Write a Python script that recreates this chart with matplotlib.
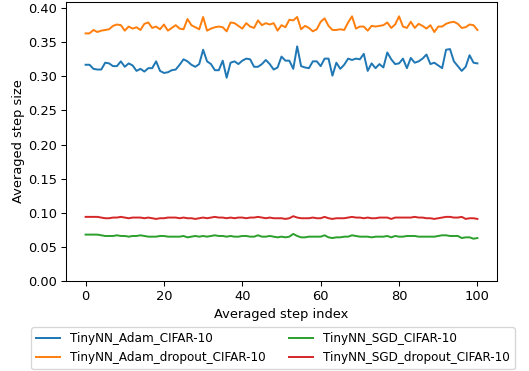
import matplotlib
matplotlib.use("Agg")
import matplotlib.pyplot as plt
import numpy as np

steps = list(range(101))

adam = [0.317, 0.317, 0.311, 0.310, 0.310, 0.320, 0.319, 0.315, 0.315, 0.322,
        0.314, 0.319, 0.316, 0.308, 0.311, 0.307, 0.312, 0.312, 0.322, 0.308,
        0.305, 0.306, 0.309, 0.310, 0.317, 0.325, 0.322, 0.317, 0.314, 0.318,
        0.339, 0.322, 0.318, 0.309, 0.309, 0.323, 0.298, 0.320, 0.322, 0.318,
        0.323, 0.326, 0.325, 0.314, 0.314, 0.318, 0.324, 0.318, 0.310, 0.313,
        0.329, 0.323, 0.323, 0.311, 0.344, 0.315, 0.313, 0.312, 0.322, 0.322,
        0.315, 0.326, 0.326, 0.301, 0.320, 0.311, 0.317, 0.326, 0.324, 0.326,
        0.325, 0.333, 0.308, 0.319, 0.312, 0.318, 0.313, 0.335, 0.325, 0.318,
        0.319, 0.326, 0.312, 0.327, 0.320, 0.322, 0.326, 0.332, 0.318, 0.320,
        0.316, 0.312, 0.339, 0.340, 0.322, 0.315, 0.308, 0.314, 0.331, 0.320,
        0.319]

adam_dropout = [0.363, 0.363, 0.368, 0.365, 0.367, 0.368, 0.369, 0.374, 0.376, 0.375,
                0.367, 0.373, 0.370, 0.372, 0.368, 0.377, 0.379, 0.371, 0.373, 0.369,
                0.376, 0.367, 0.371, 0.375, 0.370, 0.369, 0.384, 0.375, 0.372, 0.369,
                0.387, 0.367, 0.370, 0.372, 0.373, 0.372, 0.366, 0.379, 0.378, 0.374,
                0.370, 0.378, 0.373, 0.371, 0.382, 0.375, 0.378, 0.376, 0.378, 0.367,
                0.375, 0.372, 0.383, 0.382, 0.387, 0.369, 0.374, 0.371, 0.366, 0.369,
                0.380, 0.385, 0.374, 0.368, 0.368, 0.369, 0.368, 0.379, 0.388, 0.370,
                0.373, 0.373, 0.367, 0.374, 0.373, 0.374, 0.375, 0.379, 0.371, 0.376,
                0.388, 0.373, 0.371, 0.380, 0.371, 0.377, 0.374, 0.370, 0.375, 0.365,
                0.373, 0.373, 0.377, 0.379, 0.380, 0.377, 0.371, 0.372, 0.376, 0.375,
                0.368]

sgd = [0.068, 0.068, 0.068, 0.068, 0.067, 0.066, 0.066, 0.066, 0.067, 0.066,
       0.066, 0.065, 0.066, 0.066, 0.067, 0.066, 0.065, 0.065, 0.065, 0.066,
       0.066, 0.065, 0.065, 0.065, 0.065, 0.066, 0.064, 0.065, 0.066, 0.065,
       0.066, 0.065, 0.066, 0.067, 0.066, 0.066, 0.065, 0.066, 0.065, 0.065,
       0.066, 0.066, 0.065, 0.065, 0.067, 0.065, 0.065, 0.066, 0.065, 0.064,
       0.065, 0.064, 0.065, 0.069, 0.066, 0.064, 0.064, 0.065, 0.065, 0.065,
       0.065, 0.067, 0.064, 0.063, 0.064, 0.064, 0.065, 0.065, 0.067, 0.066,
       0.065, 0.065, 0.065, 0.064, 0.065, 0.065, 0.065, 0.066, 0.064, 0.066,
       0.065, 0.065, 0.066, 0.066, 0.066, 0.065, 0.065, 0.065, 0.065, 0.065,
       0.066, 0.067, 0.067, 0.066, 0.066, 0.066, 0.063, 0.064, 0.064, 0.062,
       0.063]

sgd_dropout = [0.094, 0.094, 0.094, 0.094, 0.093, 0.092, 0.092, 0.093, 0.093, 0.094,
               0.093, 0.092, 0.093, 0.093, 0.093, 0.092, 0.093, 0.092, 0.091, 0.092,
               0.092, 0.093, 0.093, 0.093, 0.092, 0.093, 0.092, 0.092, 0.091, 0.092,
               0.093, 0.092, 0.093, 0.094, 0.093, 0.093, 0.092, 0.093, 0.092, 0.093,
               0.093, 0.092, 0.093, 0.093, 0.094, 0.093, 0.092, 0.093, 0.092, 0.092,
               0.092, 0.091, 0.092, 0.095, 0.093, 0.092, 0.092, 0.092, 0.093, 0.092,
               0.092, 0.094, 0.092, 0.091, 0.092, 0.092, 0.092, 0.093, 0.094, 0.093,
               0.093, 0.092, 0.093, 0.092, 0.092, 0.093, 0.093, 0.093, 0.091, 0.093,
               0.093, 0.093, 0.093, 0.093, 0.094, 0.093, 0.093, 0.092, 0.092, 0.091,
               0.092, 0.093, 0.094, 0.094, 0.093, 0.093, 0.094, 0.091, 0.092, 0.092,
               0.091]

labels = ["TinyNN_Adam_CIFAR-10", "TinyNN_Adam_dropout_CIFAR-10",
          "TinyNN_SGD_CIFAR-10", "TinyNN_SGD_dropout_CIFAR-10"]
series = [adam, adam_dropout, sgd, sgd_dropout]
colors = ["#1f77b4", "#ff7f0e", "#2ca02c", "#d62728"]

DPI = 94
fig = plt.figure(figsize=(529 / DPI, 371 / DPI), dpi=DPI)
ax = fig.add_axes([66 / 529, 1 - 281 / 371, 431 / 529, 279 / 371])
for ys, lab, c in zip(series, labels, colors):
    ax.plot(steps, ys, color=c, label=lab, linewidth=1.5)
ax.set_ylim(0, 0.409)
ax.set_xlabel("Averaged step index")
ax.set_ylabel("Averaged step size", labelpad=2)
ax.legend(loc="upper center", bbox_to_anchor=(0.48, -0.145), ncol=2,
          fontsize=9.2)
fig.savefig("out.png", dpi=DPI)
